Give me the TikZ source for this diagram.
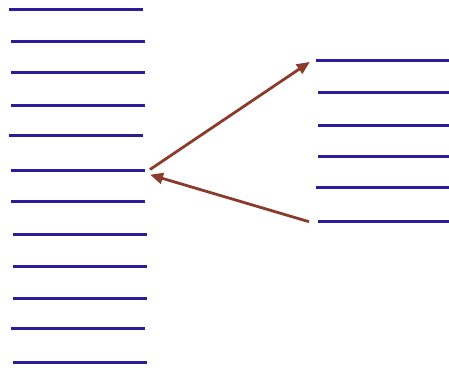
\documentclass[tikz,border=0pt]{standalone}
\usetikzlibrary{arrows.meta}
\definecolor{lineblue}{HTML}{2B1C9C}
\definecolor{arrowbrown}{HTML}{8A3B2C}
\begin{document}
\begin{tikzpicture}[x=1pt,y=-1pt,
  rule/.style={draw=lineblue,line width=3pt},
  conn/.style={draw=arrowbrown,line width=2.8pt,-{Triangle[length=13pt,width=11pt]},shorten >=-1pt}]
\useasboundingbox (0,0) rectangle (449,369);
% left column
\foreach \y/\a/\b in {9.5/9/143,41.5/11/145,72.5/11/145,105.5/11/145,135.5/9/143,170.5/11/145,201.5/11/145,234.5/13/147,266.5/13/147,298.5/13/147,328.5/11/145,362.5/13/147}
  \draw[rule] (\a,\y) -- (\b,\y);
% right column
\foreach \y/\a in {60.5/316,92.5/318,125.5/318,156.5/318,187.5/316,221.5/318}
  \draw[rule] (\a,\y) -- (449,\y);
\coordinate (L) at (150,169.5);
\coordinate (Lin) at (151,175);
\coordinate (R1) at (309,62.5);
\coordinate (R2) at (309,221.7);
\draw[conn] (L) -- (R1);
\draw[conn] (R2) -- (Lin);
\end{tikzpicture}
\end{document}
